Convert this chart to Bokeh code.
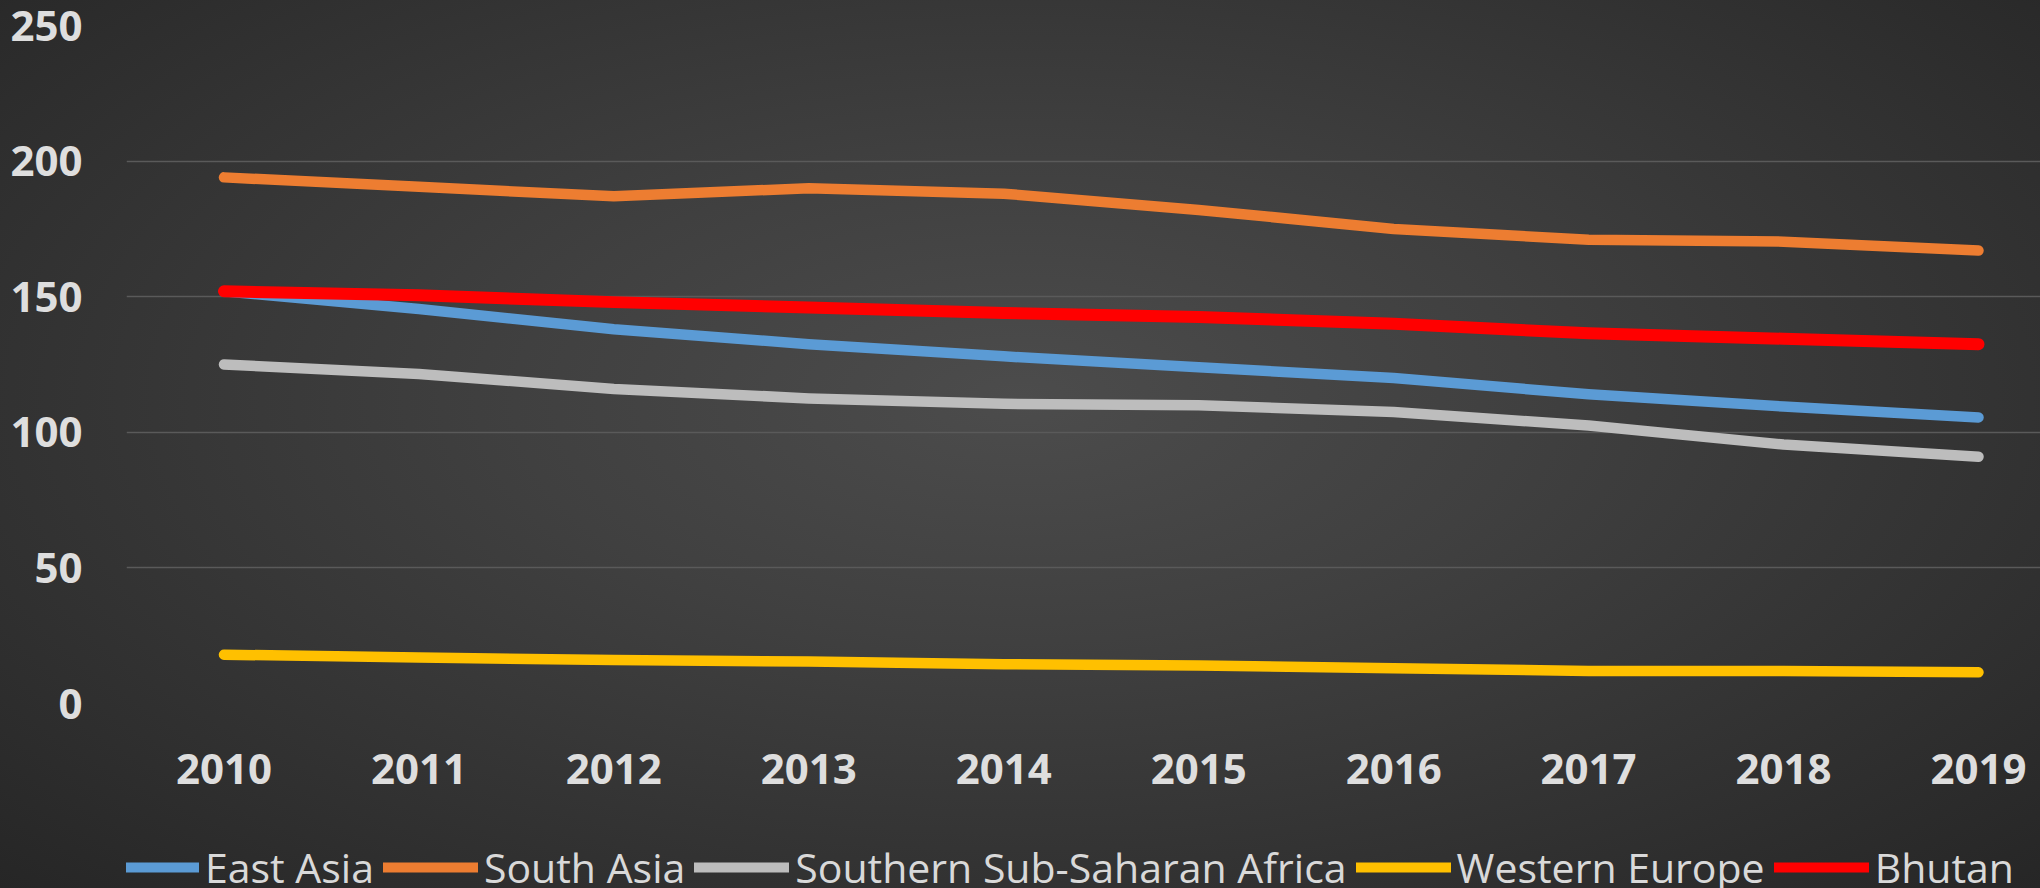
from bokeh.plotting import figure
from bokeh.layouts import column
from bokeh.models import Range1d, Legend, LegendItem, FixedTicker
from bokeh.embed import file_html
from bokeh.resources import INLINE

years = [2010, 2011, 2012, 2013, 2014, 2015, 2016, 2017, 2018, 2019]
east_asia = [152, 145.5, 138, 132.5, 128, 124, 120, 114, 109.5, 105.5]
south_asia = [194, 190.5, 187, 190, 188, 182, 175, 171, 170.3, 167]
southern_ssa = [125, 121.5, 116, 112.5, 110.5, 110, 107.5, 102.5, 95.5, 91]
western_europe = [18, 17, 16, 15.5, 14.5, 14, 13, 12, 12, 11.5]
bhutan = [152, 150.5, 148, 146, 144, 142.5, 140, 136.5, 134.5, 132.5]
y_ticks = [0, 50, 100, 150, 200, 250]

series = [
    ("East Asia", east_asia, "#5B9BD5", 10.5),
    ("South Asia", south_asia, "#ED7D31", 10.5),
    ("Southern Sub-Saharan Africa", southern_ssa, "#BDBDBD", 10.5),
    ("Western Europe", western_europe, "#FFC000", 10.5),
    ("Bhutan", bhutan, "#FF0000", 12),
]

# main chart
p = figure(width=2040, height=800, output_backend="svg", toolbar_location=None,
           x_range=Range1d(years[0] - 0.5, years[-1] + 0.318),
           y_range=Range1d(y_ticks[0], y_ticks[-1]),
           min_border_left=126, min_border_right=0, min_border_top=25,
           min_border_bottom=97)
p.border_fill_alpha = 0
p.background_fill_alpha = 0
p.outline_line_color = None

for name, vals, color, w in series:
    p.line(years, vals, line_color=color, line_width=w, line_cap="round", line_join="round")

p.xaxis.ticker = FixedTicker(ticks=years)
p.yaxis.ticker = FixedTicker(ticks=y_ticks)
for ax in (p.xaxis, p.yaxis):
    ax.axis_line_color = None
    ax.major_tick_line_color = None
    ax.minor_tick_line_color = None
    ax.major_label_text_font = "Open Sans"
    ax.major_label_text_font_style = "bold"
    ax.major_label_text_font_size = "42px"
    ax.major_label_text_color = "#dedede"
p.yaxis.major_label_standoff = 38
p.xaxis.major_label_standoff = 44

p.xgrid.grid_line_color = None
p.ygrid.grid_line_color = "#5a5a5a"
p.ygrid.grid_line_width = 1.5

# legend strip underneath; its key lines use the same series, drawn out of view
pl = figure(width=2040, height=88, output_backend="svg", toolbar_location=None,
            x_axis_type=None, y_axis_type=None,
            x_range=Range1d(0, 1), y_range=Range1d(0, 1),
            min_border_left=0, min_border_right=0, min_border_top=0, min_border_bottom=0)
pl.border_fill_alpha = 0
pl.background_fill_alpha = 0
pl.outline_line_color = None
pl.grid.grid_line_color = None

items = []
for name, vals, color, w in series:
    r = pl.line(years, vals, line_color=color, line_width=10, line_cap="round")
    items.append(LegendItem(label=name, renderers=[r]))

legend = Legend(items=items, orientation="horizontal", location=(-22, -7))
legend.padding = 0
legend.margin = 0
legend.spacing = 9
legend.glyph_width = 95
legend.glyph_height = 20
legend.label_standoff = 6
legend.label_text_font = "Open Sans"
legend.label_text_font_size = "41px"
legend.label_text_color = "#d9d9d9"
legend.background_fill_alpha = 0
legend.border_line_color = None
pl.add_layout(legend, "center")

layout = column(p, pl, spacing=0)
layout.styles = {"position": "absolute", "left": "0px", "top": "0px",
                 "width": "2040px", "height": "888px",
                 "background": "radial-gradient(ellipse at 50% 45%, #4c4c4c 0%, #404040 35%, #2e2e2e 80%, #262626 100%)"}

open("out.html", "w").write(file_html(layout, INLINE))
